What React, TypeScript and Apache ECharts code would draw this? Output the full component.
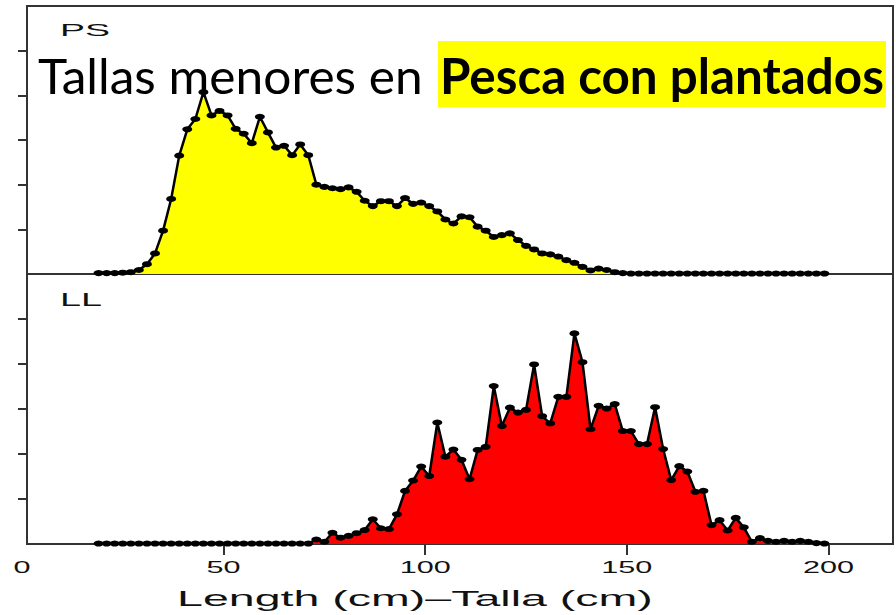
import React, { useEffect, useRef } from "react";
import * as echarts from "echarts";

// Bin centres (cm)
const lengths = [
  19, 21, 23, 25, 27, 29, 31, 33, 35, 37, 39, 41, 43, 45, 47, 49, 51, 53, 55, 57,
  59, 61, 63, 65, 67, 69, 71, 73, 75, 77, 79, 81, 83, 85, 87, 89, 91, 93, 95, 97,
  99, 101, 103, 105, 107, 109, 111, 113, 115, 117, 119, 121, 123, 125, 127, 129, 131, 133, 135, 137,
  139, 141, 143, 145, 147, 149, 151, 153, 155, 157, 159, 161, 163, 165, 167, 169, 171, 173, 175, 177,
  179, 181, 183, 185, 187, 189, 191, 193, 195, 197, 199,
];

// PS (purse seine) relative frequency
const psValues = [
  0.02, 0.02, 0.02, 0.03, 0.04, 0.09, 0.22, 0.46, 0.97, 1.68, 2.65, 3.24, 3.47, 4.07, 3.55, 3.65, 3.55, 3.25, 3.14, 2.93,
  3.52, 3.17, 2.83, 2.87, 2.66, 2.9, 2.66, 2.0, 1.95, 1.92, 1.9, 1.94, 1.84, 1.64, 1.52, 1.63, 1.63, 1.52, 1.7, 1.57,
  1.6, 1.52, 1.4, 1.22, 1.13, 1.29, 1.27, 1.06, 0.97, 0.83, 0.87, 0.91, 0.76, 0.63, 0.55, 0.46, 0.44, 0.39, 0.31, 0.25,
  0.16, 0.08, 0.12, 0.09, 0.04, 0.02, 0.01, 0.01, 0.01, 0.01, 0.01, 0.01, 0.01, 0.01, 0.01, 0.01, 0.01, 0.01, 0.01, 0.01,
  0.01, 0.01, 0.01, 0.01, 0.01, 0.01, 0.01, 0.01, 0.01, 0.01, 0.01,
];

// LL (longline) relative frequency
const llValues = [
  0.01, 0.01, 0.01, 0.01, 0.01, 0.01, 0.01, 0.01, 0.01, 0.01, 0.01, 0.01, 0.01, 0.01, 0.01, 0.01, 0.01, 0.01, 0.01, 0.01,
  0.01, 0.01, 0.01, 0.01, 0.01, 0.01, 0.01, 0.1, 0.05, 0.25, 0.14, 0.18, 0.24, 0.31, 0.55, 0.35, 0.33, 0.66, 1.18, 1.41,
  1.72, 1.51, 2.7, 1.94, 2.1, 1.87, 1.44, 2.09, 2.16, 3.51, 2.62, 3.03, 2.92, 2.98, 3.99, 2.84, 2.68, 3.27, 3.27, 4.68,
  4.04, 2.55, 3.07, 3.01, 3.11, 2.51, 2.51, 2.22, 2.22, 3.04, 2.11, 1.42, 1.73, 1.61, 1.16, 1.18, 0.42, 0.53, 0.3, 0.58,
  0.37, 0.05, 0.13, 0.07, 0.05, 0.07, 0.05, 0.07, 0.05, 0.02, 0.01,
];

const xTickLabels = [0, 50, 100, 150, 200];
const xTickMarks = [50, 100, 150, 200];
const yTickMarks = [1, 2, 3, 4, 5];
const panelNames = ["PS", "LL"];
const titlePlain = "Tallas menores en";
const titleBold = "Pesca con plantados";
const xTitle = "Length (cm)–Talla (cm)";

const AXIS_FONT = '"Liberation Sans", Arial, sans-serif';
const TITLE_FONT = 'Lato, "Open Sans", sans-serif';

function measure(text: string, font: string): number {
  const c = document.createElement("canvas").getContext("2d");
  if (!c) return text.length * 10;
  c.font = font;
  return c.measureText(text).width || text.length * 10;
}

function fitText(
  text: string,
  left: number,
  cy: number,
  size: number,
  family: string,
  weight: string,
  targetWidth: number,
  fill = "#111"
) {
  const font = `${weight} ${size}px ${family}`;
  const w = measure(text, font);
  return {
    type: "text",
    x: left,
    y: cy,
    scaleX: targetWidth / w,
    z: 100,
    style: {
      text,
      x: 0,
      y: 0,
      font,
      fill,
      align: "left",
      verticalAlign: "middle",
      textAlign: "left",
      textVerticalAlign: "middle",
    },
  };
}

export default function App() {
  const ref = useRef<HTMLDivElement>(null);

  useEffect(() => {
    document.body.style.margin = "0";
    if (!ref.current) return;
    const chart = echarts.init(ref.current, undefined, { renderer: "svg" });

    const psData = lengths.map((l, i) => [l, psValues[i]]);
    const llData = lengths.map((l, i) => [l, llValues[i]]);

    const frame = { show: true, borderColor: "#333", borderWidth: 2, backgroundColor: "#fff" };
    const xBase = {
      type: "value",
      min: 1.25,
      max: 216,
      axisLine: { show: false },
      splitLine: { show: false },
      axisLabel: { show: false },
    };
    const yBase = {
      type: "value",
      min: 0,
      max: 6,
      interval: 1,
      axisLine: { show: false },
      splitLine: { show: false },
      axisLabel: { show: false },
      axisTick: {
        show: true,
        customValues: yTickMarks,
        length: 9,
        lineStyle: { color: "#333", width: 2 },
      },
    };
    const seriesBase = {
      type: "line",
      symbol: "circle",
      symbolSize: [10, 6],
      showSymbol: true,
      lineStyle: { color: "#000", width: 2.5 },
      itemStyle: { color: "#000" },
      z: 3,
    };

    chart.setOption({
      animation: false,
      backgroundColor: "#fff",
      grid: [
        { left: 27, right: 3, top: 6, height: 268, ...frame },
        { left: 27, right: 3, top: 274, height: 270, ...frame },
      ],
      xAxis: [
        { ...xBase, gridIndex: 0, axisTick: { show: false } },
        {
          ...xBase,
          gridIndex: 1,
          axisTick: {
            show: true,
            customValues: xTickMarks,
            length: 11,
            lineStyle: { color: "#333", width: 2 },
          },
        },
      ],
      yAxis: [
        { ...yBase, gridIndex: 0 },
        { ...yBase, gridIndex: 1 },
      ],
      series: [
        {
          ...seriesBase,
          name: panelNames[0],
          xAxisIndex: 0,
          yAxisIndex: 0,
          data: psData,
          areaStyle: { color: "#FFFF00", opacity: 1 },
        },
        {
          ...seriesBase,
          name: panelNames[1],
          xAxisIndex: 1,
          yAxisIndex: 1,
          data: llData,
          areaStyle: { color: "#FF0000", opacity: 1 },
        },
      ],
    });

    // Tick labels placed through the axis scale
    const tickTexts = xTickLabels.map((v) => {
      const px = chart.convertToPixel({ xAxisIndex: 1 }, v) as number;
      return {
        type: "text",
        x: px,
        y: 567,
        scaleX: 1.8,
        z: 100,
        style: {
          text: String(v),
          x: 0,
          y: 0,
          font: `17px ${AXIS_FONT}`,
          fill: "#111",
          align: "center",
          verticalAlign: "middle",
          textAlign: "center",
          textVerticalAlign: "middle",
        },
      };
    });

    chart.setOption({
      graphic: [
        {
          type: "rect",
          shape: { x: 438, y: 41, width: 448, height: 66 },
          style: { fill: "#FFFF00" },
          z: 99,
        },
        fitText(titlePlain, 38, 75, 49, TITLE_FONT, "normal", 385, "#000"),
        fitText(titleBold, 440, 75, 49, TITLE_FONT, "bold", 444, "#000"),
        fitText(panelNames[0], 60, 30, 16, AXIS_FONT, "normal", 50),
        fitText(panelNames[1], 60, 299, 19, AXIS_FONT, "normal", 42),
        fitText(xTitle, 177, 598, 23, AXIS_FONT, "normal", 476),
        ...tickTexts,
      ],
    });

    return () => chart.dispose();
  }, []);

  return <div ref={ref} style={{ width: 896, height: 615 }} />;
}
